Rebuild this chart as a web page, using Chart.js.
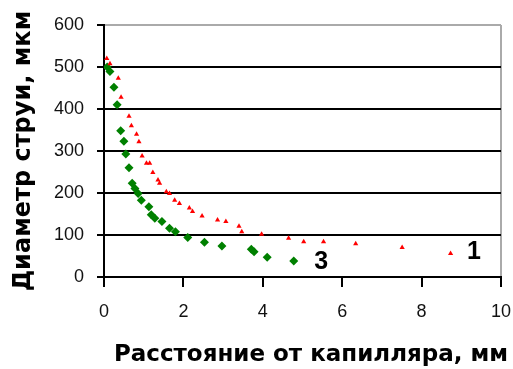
<!DOCTYPE html>
<html><head><meta charset="utf-8">
<script src="https://cdn.jsdelivr.net/npm/chart.js@4/dist/chart.umd.min.js"></script>
<style>html,body{margin:0;padding:0;background:#fff}#w{width:513px;height:369px}</style>
</head><body><div id="w"><canvas id="c"></canvas></div>
<script>
const series1X = [0.07,0.15,0.36,0.43,0.63,0.69,0.82,0.88,0.96,1.07,1.15,1.23,1.36,1.40,1.57,1.65,1.78,1.90,2.15,2.23,2.47,2.86,3.07,3.40,3.47,3.97,4.65,5.03,5.53,6.34,7.51,8.73];
const series1Y = [520,508,473,428,383,360,340,322,288,271,271,249,231,223,203,199,183,175,164,156,145,136,132,121,108,102,92,84,84,79,70,56];
const series3X = [0.08,0.15,0.25,0.33,0.42,0.50,0.55,0.63,0.71,0.78,0.86,0.94,1.13,1.19,1.28,1.46,1.65,1.80,2.11,2.53,2.97,3.71,3.78,4.11,4.78];
const series3Y = [500,489,452,410,348,323,293,260,223,211,199,183,167,148,140,132,116,108,94,83,74,66,60,47,38];
const seriesLabels = [{text:'1', x:9.32, y:59}, {text:'3', x:5.47, y:36}];
const xTicks = [0,2,4,6,8,10];
const yTicks = [0,100,200,300,400,500,600];
const xTitle = 'Расстояние от капилляра, мм';
const yTitle = 'Диаметр струи, мкм';

const toPts = (xs, ys) => xs.map((x,i)=>({x, y: ys[i]}));
const labelPlugin = {
  id:'lbl',
  afterDatasetsDraw(chart){
    const {ctx, scales:{x,y}} = chart;
    ctx.save();
    ctx.font = 'bold 25px "Liberation Sans", Arial';
    ctx.fillStyle = '#000';
    ctx.textAlign = 'center'; ctx.textBaseline = 'middle';
    seriesLabels.forEach(l => ctx.fillText(l.text, x.getPixelForValue(l.x), y.getPixelForValue(l.y)));
    ctx.font = 'bold 23px "DejaVu Sans"';
    ctx.fillText(xTitle, 311, 355);
    ctx.restore();
  }
};
const tickFont = {family:'"Liberation Sans", Arial', size:18};
new Chart(document.getElementById('c'), {
  type:'scatter',
  data:{datasets:[
    {data: toPts(series1X, series1Y), pointStyle:'triangle', pointRadius:3, backgroundColor:'#ff0000', borderColor:'#ff0000', borderWidth:0},
    {data: toPts(series3X, series3Y), pointStyle:'rectRot', pointRadius:4.5, backgroundColor:'#008000', borderColor:'#008000', borderWidth:0}
  ]},
  options:{
    responsive:true, maintainAspectRatio:false, animation:false,
    layout:{padding:{top:25, right:12, left:0, bottom:0}},
    plugins:{legend:{display:false}, tooltip:{enabled:false}},
    scales:{
      x:{type:'linear', min:0, max:10,
        afterBuildTicks: s => { s.ticks = xTicks.map(v=>({value:v})); },
        afterFit: s => { s.height = 92; s.paddingLeft = 0; s.paddingRight = 0; },
        ticks:{color:'#111', font:tickFont, padding:14, maxRotation:0},
        grid:{drawOnChartArea:true, drawTicks:true, tickLength:10,
          color: c => c.tick && c.tick.value === 10 ? '#aaa' : 'rgba(0,0,0,0)', tickColor:'#000', lineWidth:2},
        border:{display:true, color:'#000', width:2}
      },
      y:{type:'linear', min:0, max:600,
        afterBuildTicks: s => { s.ticks = yTicks.map(v=>({value:v})); },
        afterFit: s => { s.width = 104; s.paddingTop = 0; s.paddingBottom = 0; },
        ticks:{color:'#111', font:tickFont, padding:13},
        grid:{drawOnChartArea:true, drawTicks:true, tickLength:7,
          color: c => c.tick && c.tick.value === 600 ? '#aaa' : '#000', tickColor:'#000', lineWidth:2},
        border:{display:true, color:'#000', width:2},
        title:{display:true, text:yTitle, color:'#000',
          font:{family:'"DejaVu Sans"', size:24, weight:'bold'}, padding:{top:9,bottom:0}}
      }
    }
  },
  plugins:[labelPlugin]
});
</script></body></html>
